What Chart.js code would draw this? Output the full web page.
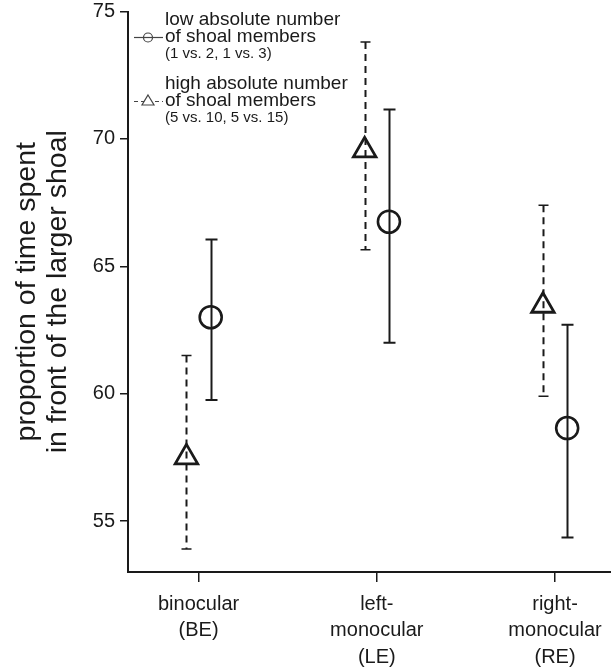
<!DOCTYPE html>
<html>
<head>
<meta charset="utf-8">
<script src="https://cdn.jsdelivr.net/npm/chart.js@4.4.0/dist/chart.umd.min.js"></script>
<style>
  html, body { margin: 0; padding: 0; background: #fff; }
  #wrap { width: 611px; height: 667px; }
</style>
</head>
<body>
<div id="wrap"><canvas id="myChart" width="611" height="667"></canvas></div>
<script>
// categories and tick values
var categories = [['binocular', '(BE)'], ['left-', 'monocular', '(LE)'], ['right-', 'monocular', '(RE)']];
var catPos = [1, 2, 3];
var yTicks = [55, 60, 65, 70, 75];

// low absolute number of shoal members (circles, solid bars)
var lowMean  = [63.0, 66.75, 58.65];
var lowUpper = [66.05, 71.15, 62.7];
var lowLower = [59.75, 62.0, 54.35];

// high absolute number of shoal members (triangles, dashed bars)
var highMean  = [57.5, 69.55, 63.45];
var highUpper = [61.5, 73.8, 67.4];
var highLower = [53.9, 65.65, 59.9];

var shift = 0.068;
var FONT = '"Liberation Sans", Arial, Helvetica, sans-serif';
var INK = '#1a1a1a';

function points(means, dx) {
  var out = [];
  for (var i = 0; i < means.length; i++) {
    out.push({ x: catPos[i] + dx, y: means[i] });
  }
  return out;
}

// error bars drawn through the scales
var errorBars = {
  id: 'errorBars',
  beforeDatasetsDraw: function (chart) {
    var ctx = chart.ctx;
    var xs = chart.scales.x, ys = chart.scales.y;
    chart.data.datasets.forEach(function (ds) {
      for (var i = 0; i < ds.data.length; i++) {
        var px = Math.round(xs.getPixelForValue(ds.data[i].x)) + 0.5;
        var top = ys.getPixelForValue(ds.upper[i]);
        var bot = ys.getPixelForValue(ds.lower[i]);
        ctx.save();
        ctx.strokeStyle = INK;
        ctx.lineWidth = ds.errWidth;
        ctx.setLineDash(ds.dash);
        ctx.beginPath();
        ctx.moveTo(px, top);
        ctx.lineTo(px, bot);
        ctx.stroke();
        ctx.setLineDash([]);
        ctx.lineWidth = ds.capLine;
        ctx.beginPath();
        ctx.moveTo(px - ds.cap, top); ctx.lineTo(px + ds.cap, top);
        ctx.moveTo(px - ds.cap, bot); ctx.lineTo(px + ds.cap, bot);
        ctx.stroke();
        ctx.restore();
      }
    });
  }
};

// legend in the top-left corner of the plot
var legendBox = {
  id: 'legendBox',
  afterDraw: function (chart) {
    var ctx = chart.ctx;
    ctx.save();
    ctx.fillStyle = INK;
    ctx.textAlign = 'left';
    ctx.textBaseline = 'middle';
    var tx = 165;
    ctx.font = '19px ' + FONT;
    ctx.fillText('low absolute number', tx, 20);
    ctx.fillText('of shoal members', tx, 37);
    ctx.fillText('high absolute number', tx, 84);
    ctx.fillText('of shoal members', tx, 101);
    ctx.font = '15px ' + FONT;
    ctx.fillText('(1 vs. 2, 1 vs. 3)', tx, 54);
    ctx.fillText('(5 vs. 10, 5 vs. 15)', tx, 118);

    ctx.strokeStyle = '#444';
    ctx.lineWidth = 1.2;
    // circle symbol
    ctx.beginPath();
    ctx.moveTo(134, 37.5); ctx.lineTo(163, 37.5);
    ctx.stroke();
    ctx.beginPath();
    ctx.arc(148, 37.5, 4.5, 0, Math.PI * 2);
    ctx.stroke();
    // triangle symbol
    ctx.setLineDash([4, 3]);
    ctx.beginPath();
    ctx.moveTo(134, 101.5); ctx.lineTo(163, 101.5);
    ctx.stroke();
    ctx.setLineDash([]);
    ctx.fillStyle = '#fff';
    ctx.beginPath();
    ctx.moveTo(148, 95); ctx.lineTo(154, 105); ctx.lineTo(142, 105); ctx.closePath();
    ctx.fill();
    ctx.stroke();
    ctx.restore();
  }
};

var ctx = document.getElementById('myChart').getContext('2d');
var chart = new Chart(ctx, {
  type: 'scatter',
  data: {
    datasets: [{
      label: 'low absolute number of shoal members',
      data: points(lowMean, shift),
      upper: lowUpper,
      lower: lowLower,
      dash: [],
      errWidth: 2,
      capLine: 2,
      cap: 6,
      pointStyle: 'circle',
      pointRadius: 11,
      pointHoverRadius: 11,
      borderWidth: 2.6,
      borderColor: INK,
      backgroundColor: 'rgba(0,0,0,0)'
    }, {
      label: 'high absolute number of shoal members',
      data: points(highMean, -shift),
      upper: highUpper,
      lower: highLower,
      dash: [7, 5],
      errWidth: 2,
      capLine: 1.5,
      cap: 5,
      pointStyle: 'triangle',
      pointRadius: 13,
      pointHoverRadius: 13,
      borderWidth: 2.8,
      borderColor: INK,
      backgroundColor: 'rgba(0,0,0,0)'
    }]
  },
  options: {
    responsive: false,
    animation: false,
    devicePixelRatio: 1,
    layout: { autoPadding: false, padding: { top: 11.5, left: 0, right: 0, bottom: 0 } },
    plugins: {
      legend: { display: false },
      tooltip: { enabled: false }
    },
    scales: {
      x: {
        type: 'linear',
        min: 0.604,
        max: 3.314,
        afterBuildTicks: function (scale) {
          scale.ticks = catPos.map(function (v) { return { value: v }; });
        },
        afterFit: function (scale) {
          scale.height = 95;
          scale.paddingLeft = 0;
          scale.paddingRight = 0;
        },
        grid: { display: true, drawOnChartArea: false, drawTicks: true, tickLength: 10, color: INK, lineWidth: 1.5 },
        border: { display: true, color: INK, width: 2 },
        ticks: {
          padding: 9,
          color: INK,
          maxRotation: 0,
          autoSkip: false,
          font: { family: FONT, size: 20, lineHeight: 1.325 },
          callback: function (value) {
            var i = catPos.indexOf(value);
            return i >= 0 ? categories[i] : '';
          }
        }
      },
      y: {
        min: 53,
        max: 75,
        afterBuildTicks: function (scale) {
          scale.ticks = yTicks.map(function (v) { return { value: v }; });
        },
        afterFit: function (scale) {
          scale.width = 128;
          scale.paddingTop = 0;
          scale.paddingBottom = 0;
        },
        grid: { display: true, drawOnChartArea: false, drawTicks: true, tickLength: 8, color: INK, lineWidth: 1.5 },
        border: { display: true, color: INK, width: 2 },
        ticks: {
          padding: 5,
          color: INK,
          font: { family: FONT, size: 20 }
        },
        title: {
          display: true,
          text: ['proportion of time spent', 'in front of the larger shoal'],
          color: INK,
          font: { family: FONT, size: 28.5, lineHeight: 1.09 },
          padding: { top: 11.5, bottom: 0 }
        }
      }
    }
  },
  plugins: [errorBars, legendBox]
});
</script>
</body>
</html>
